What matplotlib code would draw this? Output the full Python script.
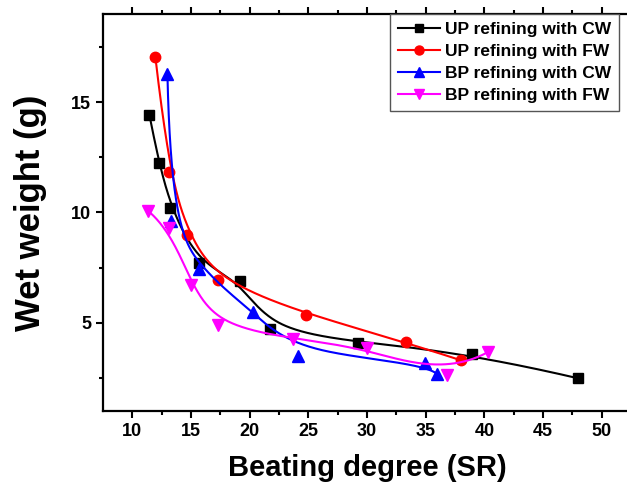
import numpy as np
import matplotlib.pyplot as plt

plt.rcParams['font.family'] = ['Liberation Sans', 'DejaVu Sans']
plt.rcParams['font.weight'] = 'bold'

# data
up_cw_x = [11.45, 12.27, 13.24, 15.66, 19.16, 21.71, 29.27, 38.97, 48.01]
up_cw_y = [14.43, 12.23, 10.19, 7.70, 6.91, 4.73, 4.10, 3.60, 2.48]

up_fw_x = [11.96, 13.10, 14.69, 17.30, 24.81, 33.35, 38.00]
up_fw_y = [17.06, 11.82, 9.00, 6.94, 5.36, 4.11, 3.30]

bp_cw_x = [12.99, 13.27, 15.66, 20.29, 24.16, 34.90, 35.99]
bp_cw_y = [16.26, 9.62, 7.44, 5.51, 3.50, 3.18, 2.67]

bp_fw_x = [11.30, 13.12, 14.97, 17.34, 23.65, 29.97, 36.80, 40.34]
bp_fw_y = [10.09, 9.30, 6.73, 4.91, 4.28, 3.86, 2.65, 3.68]

labels = ["UP refining with CW", "UP refining with FW",
          "BP refining with CW", "BP refining with FW"]


def bspline(x, y, k=3, n=400):
    # clamped B-spline with the points as control points (like Origin's B-Spline line)
    p = np.column_stack([x, y]).astype(float)
    m = len(p)
    k = min(k, m - 1)
    knots = np.concatenate([np.zeros(k), np.linspace(0, 1, m - k + 1), np.ones(k)])
    u = np.linspace(0, 1 - 1e-9, n)
    N = np.zeros((n, len(knots) - 1))
    for i in range(len(knots) - 1):
        N[:, i] = (u >= knots[i]) & (u < knots[i + 1])
    for d in range(1, k + 1):
        Nn = np.zeros((n, len(knots) - 1 - d))
        for i in range(len(knots) - 1 - d):
            a = knots[i + d] - knots[i]
            b = knots[i + d + 1] - knots[i + 1]
            t1 = (u - knots[i]) / a * N[:, i] if a > 0 else 0
            t2 = (knots[i + d + 1] - u) / b * N[:, i + 1] if b > 0 else 0
            Nn[:, i] = t1 + t2
        N = Nn
    c = N @ p
    c = np.vstack([c, p[-1]])
    return c[:, 0], c[:, 1]


fig = plt.figure(figsize=(6.27, 4.88), dpi=100)
ax = fig.add_axes([0.1643, 0.1578, 0.8421, 0.8135])

series = [(up_cw_x, up_cw_y, 'black', 's', 6.5),
          (up_fw_x, up_fw_y, 'red', 'o', 7.5),
          (bp_cw_x, bp_cw_y, 'blue', '^', 8),
          (bp_fw_x, bp_fw_y, 'magenta', 'v', 8)]

for (xs, ys, col, mk, ms), lab in zip(series, labels):
    sx, sy = bspline(xs, ys)
    ax.plot(sx, sy, color=col, lw=1.5)
    ax.plot(xs, ys, ls='none', marker=mk, ms=ms, color=col)
    ax.plot([], [], color=col, lw=1.5, marker=mk, ms=ms - 1, label=lab)

ax.set_xlim(7.5, 52.5)
ax.set_ylim(1, 19)
ax.set_xticks([10, 15, 20, 25, 30, 35, 40, 45, 50])
ax.set_xticks(np.arange(12.5, 52.5, 5), minor=True)
ax.set_yticks([5, 10, 15])
ax.set_yticks([2.5, 7.5, 12.5, 17.5], minor=True)
ax.tick_params(which='both', direction='out', width=1.5, labelsize=13,
               top=True)
ax.tick_params(which='major', length=5)
ax.tick_params(which='minor', length=3)
for s in ax.spines.values():
    s.set_linewidth(1.6)

ax.set_xlabel("Beating degree (SR)", fontsize=21, fontweight='bold', labelpad=10)
ax.set_ylabel("Wet weight (g)", fontsize=25, fontweight='bold', labelpad=17)

leg = ax.legend(loc='upper right', bbox_to_anchor=(619 / 627, 1 - 14 / 488),
                bbox_transform=fig.transFigure, fontsize=12.5, frameon=True,
                fancybox=False, edgecolor='#555555', framealpha=1,
                handlelength=2.4, handletextpad=0.3, labelspacing=0.4,
                borderpad=0.45, borderaxespad=0)
leg.get_frame().set_linewidth(1.0)

fig.savefig("out.png", dpi=100)
